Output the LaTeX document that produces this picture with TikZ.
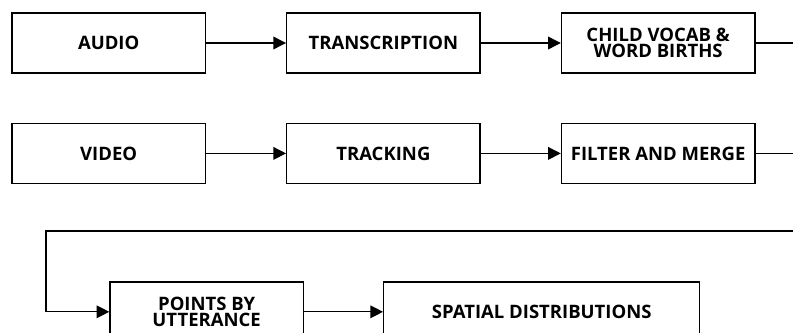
\documentclass[tikz,border=0pt]{standalone}
\usepackage{fontspec}
\setmainfont{Open Sans}
\usetikzlibrary{arrows.meta, positioning, calc}
\tikzset{
  arrowK/.style={-{Triangle[length=3.8mm, width=3.8mm]}, black, line width=1.1pt},
  lineK/.style={black, line width=1.1pt},
  boxW/.style={rectangle, draw=black, fill=white, line width=1.2pt,
               align=center, font=\bfseries\fontsize{15.8}{14.3}\selectfont,
               inner sep=2pt, minimum width=5.8cm, minimum height=1.8cm},
}
\begin{document}
\begin{tikzpicture}[node distance=1.47cm and 2.4cm]
    \clip (0,0) rectangle (23.79,-9.99);
    % audio branch
    \node[boxW] (audio) at (3.26,-1.29) {AUDIO};
    \node[boxW, right=of audio] (trans) {TRANSCRIPTION};
    \node[boxW, right=of trans] (vocab) {CHILD VOCAB \&\\WORD BIRTHS};
    % video branch
    \node[boxW, below=of audio] (video) {VIDEO};
    \node[boxW, right=of video] (track) {TRACKING};
    \node[boxW, right=of track] (merge) {FILTER AND MERGE};
    % results
    \node[boxW, below=2.91cm of video.south west, anchor=north west,
          xshift=2.94cm] (points) {POINTS BY\\UTTERANCE};
    \node[boxW, right=2.37cm of points, minimum width=9.48cm] (spatial) {SPATIAL DISTRIBUTIONS};
    \coordinate (edge) at (23.79,-6.93);
    \coordinate (outA) at (vocab.east -| edge);
    \coordinate (outV) at (merge.east -| edge);
    \coordinate (bend) at (1.38,-6.93);
    \draw[arrowK] (audio)--(trans); \draw[arrowK] (trans)--(vocab);
    \draw[arrowK] (video)--(track); \draw[arrowK] (track)--(merge);
    \draw[lineK] (vocab.east)--(outA); \draw[lineK] (merge.east)--(outV);
    \draw[arrowK] (edge)--(bend) |- (points.west);
    \draw[arrowK] (points)--(spatial);
\end{tikzpicture}
\end{document}
